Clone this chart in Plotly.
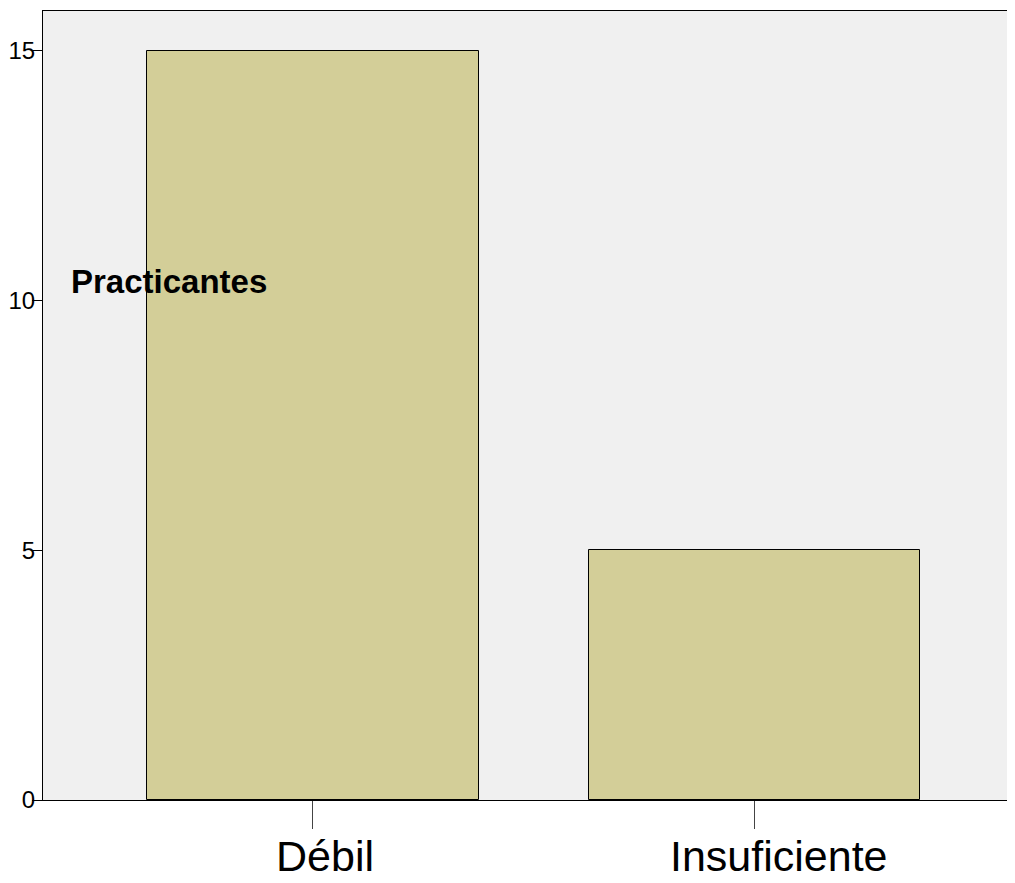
import plotly.graph_objects as go

categories = ["Débil", "Insuficiente"]
values = [15, 5]
y_ticks = [0, 5, 10, 15]
y_title = "Practicantes"

# figure sized so that the page (with the browser's 8px body margin) fits the window
W, H = 999, 867
L, T, R, B = 35, 3, 0, 75
plot_w = W - L - R
plot_h = H - T - B

fig = go.Figure()
fig.add_trace(go.Bar(
    x=categories, y=values, width=0.75,
    marker=dict(color="#D3CE98", line=dict(color="#000000", width=1)),
    hoverinfo="skip",
))

fig.update_layout(
    width=W, height=H,
    margin=dict(l=L, r=R, t=T, b=B, pad=0),
    paper_bgcolor="#FFFFFF", plot_bgcolor="#F0F0F0",
    showlegend=False,
    font=dict(family="Liberation Sans, Arial, sans-serif", color="#000000"),
    bargap=0,
)
fig.update_xaxes(
    type="category", range=[-0.6115, -0.6115 + plot_w / 441.5],
    showline=True, linecolor="#000000", linewidth=1, mirror=True,
    ticks="outside", ticklen=28, tickcolor="#444444", tickwidth=1,
    showticklabels=False, automargin=False,
    showgrid=False, zeroline=False,
)
fig.update_yaxes(
    range=[0, 15.8], tickvals=y_ticks,
    showline=True, linecolor="#000000", linewidth=1,
    ticks="outside", ticklen=10, tickcolor="#000000", tickwidth=1,
    tickfont=dict(size=24, color="#000000"),
    ticklabelstandoff=-8, automargin=False,
    showgrid=False, zeroline=False,
)

# category labels, placed at each category on the x axis (slightly right of the tick, as in the reference)
label_shifts = [12, 25]
for cat, dx in zip(categories, label_shifts):
    fig.add_annotation(
        text=cat, xref="x", yref="paper", x=cat, y=0,
        xanchor="center", yanchor="top", xshift=dx, yshift=-30,
        showarrow=False, font=dict(size=43, color="#000000"),
    )

fig.add_annotation(
    text="<b>" + y_title + "</b>", xref="paper", yref="paper",
    x=(61 - L) / plot_w, y=(792 - 273) / plot_h, xanchor="left", yanchor="middle",
    showarrow=False, font=dict(size=33, color="#000000"),
)
fig.write_html("out.html")
